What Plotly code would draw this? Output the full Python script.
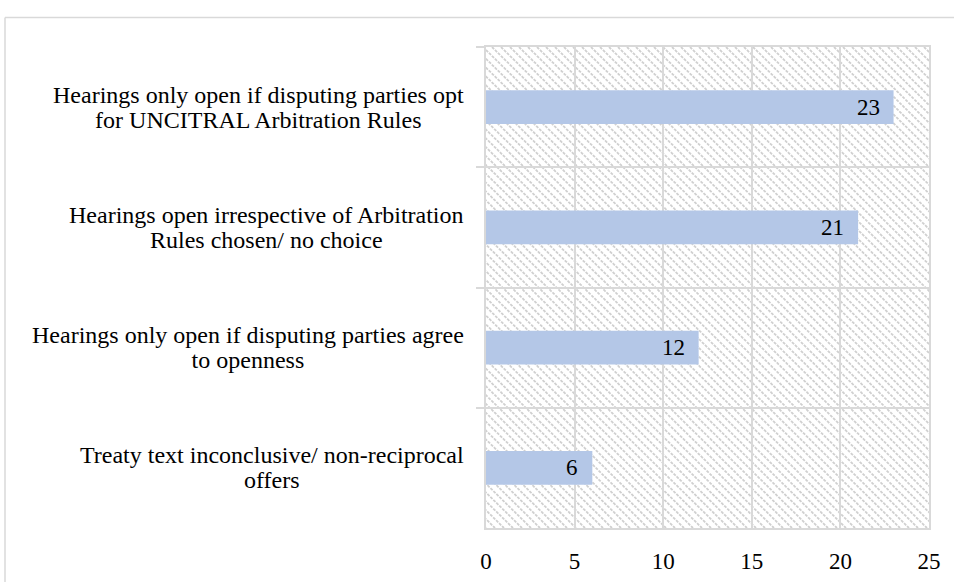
import base64
import plotly.graph_objects as go

categories = [
    "Hearings only open if disputing parties opt<br>for UNCITRAL Arbitration Rules",
    "Hearings open irrespective of Arbitration<br>Rules chosen/ no choice",
    "Hearings only open if disputing parties agree<br>to openness",
    "Treaty text inconclusive/ non-reciprocal<br>offers",
]
values = [23, 21, 12, 6]
x_ticks = [0, 5, 10, 15, 20, 25]

W, H = 954, 586
ML, MR, MT, MB = 486, 25, 47, 50
PW, PH = W - ML - MR, H - MT - MB

FONT = "Liberation Serif, Times New Roman, serif"
GRID = "#D9D9D9"

# hatch pattern (wide downward diagonal) for the plot-area background
step = 9
lines = []
for k in range(-PH, PW + PH, step):
    lines.append(f'<line x1="{k}" y1="0" x2="{k + PH}" y2="{PH}" />')
svg = (
    f'<svg xmlns="http://www.w3.org/2000/svg" width="{PW}" height="{PH}" '
    f'viewBox="0 0 {PW} {PH}"><rect width="{PW}" height="{PH}" fill="white"/>'
    f'<g stroke="#D0D0D0" stroke-width="1.8" stroke-dasharray="3 1.2">' + "".join(lines) + "</g></svg>"
)
src = "data:image/svg+xml;base64," + base64.b64encode(svg.encode()).decode()

fig = go.Figure()
fig.add_trace(
    go.Bar(
        x=values,
        y=categories,
        orientation="h",
        width=0.28,
        marker=dict(color="#B4C7E7", line=dict(width=0)),
        hoverinfo="skip",
    )
)

# value labels inside bar ends
for c, v in zip(categories, values):
    fig.add_annotation(
        x=v, xref="x", y=c, yref="y", text=str(v), showarrow=False,
        xanchor="right", xshift=-12,
        font=dict(family=FONT, size=23, color="black"),
    )

# centred category labels (block right-aligned against the axis)
SPAN = '<span style="font-size:24px">'
for c in categories:
    fig.add_annotation(
        x=0, xref="paper", y=c, yref="y",
        text=SPAN + c.replace("<br>", "</span><br>" + SPAN) + "</span>",
        showarrow=False,
        xanchor="right", align="center", xshift=-20,
        font=dict(family=FONT, size=19, color="black"),
    )

def px_x(p):
    return (p - ML) / PW

def px_y(p):
    return (H - MB - p) / PH

# outer chart border (partly cropped in reference)
fig.add_shape(type="line", xref="paper", yref="paper",
              x0=px_x(5), x1=px_x(W + 5), y0=px_y(17), y1=px_y(17),
              line=dict(color=GRID, width=1.5))
fig.add_shape(type="line", xref="paper", yref="paper",
              x0=px_x(5), x1=px_x(5), y0=px_y(17), y1=px_y(H + 5),
              line=dict(color=GRID, width=1.5))

fig.update_layout(
    width=W, height=H,
    margin=dict(l=ML, r=MR, t=MT, b=MB),
    paper_bgcolor="white",
    plot_bgcolor="rgba(0,0,0,0)",
    showlegend=False,
    images=[dict(source=src, xref="paper", yref="paper", x=0, y=1,
                 sizex=1, sizey=1, xanchor="left", yanchor="top",
                 sizing="stretch", layer="below")],
    xaxis=dict(
        range=[0, 25], tickvals=x_ticks, ticktext=[str(t) for t in x_ticks],
        showgrid=True, gridcolor=GRID, gridwidth=1.5,
        zeroline=False, showline=True, linecolor=GRID, linewidth=1.5,
        mirror=True, ticks="", ticklen=0, ticklabelstandoff=12,
        tickfont=dict(family=FONT, size=23, color="black"),
    ),
    yaxis=dict(
        categoryorder="array", categoryarray=categories,
        autorange="reversed",
        showticklabels=False, tickson="boundaries",
        ticks="outside", ticklen=8, tickcolor=GRID, tickwidth=1.5,
        showgrid=True, gridcolor=GRID, gridwidth=1.5,
        showline=True, linecolor=GRID, linewidth=1.5, mirror=True,
    ),
)

fig.write_html(
    "out.html",
    config={"displayModeBar": False},
    post_script="document.body.style.margin='0';document.body.style.overflow='hidden';",
)
